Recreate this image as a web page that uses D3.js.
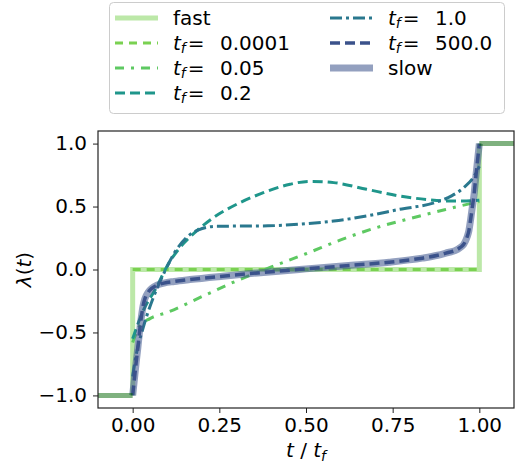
<!DOCTYPE html>
<meta charset="utf-8">
<html>
<head>
<style>
  body { margin: 0; background: #fff; }
  text { font-family: "DejaVu Sans", sans-serif; fill: #000; }
</style>
<script src="https://d3js.org/d3.v7.min.js"></script>
</head>
<body>
<script>

// Values, t is in units of t_f
var fastT = [0, 0, 1, 1];
var fastL = [-1, 0, 0, 1];

var outerT = [[-0.1, 0], [1, 1.1]];
var outerL = [[-1, -1], [1, 1]];

var t0001T = [0, 1];
var t0001L = [0, 0];

var t005T = [0, 0.02, 0.05, 0.1, 0.2, 0.3, 0.4, 0.5, 0.6, 0.7, 0.8, 0.9, 1.0];
var t005L = [-0.58, -0.45, -0.39, -0.34, -0.215, -0.09, 0.02, 0.125, 0.235, 0.33, 0.405, 0.475, 0.54];

var t02T = [0, 0.03, 0.068, 0.1, 0.136, 0.184, 0.232, 0.3, 0.377, 0.454, 0.51, 0.58, 0.675, 0.77, 0.85, 0.9, 0.95, 1.0];
var t02L = [-0.55, -0.33, -0.146, 0.03, 0.173, 0.305, 0.41, 0.518, 0.61, 0.677, 0.70, 0.69, 0.637, 0.584, 0.555, 0.545, 0.545, 0.55];

var t1T = [0, 0.01, 0.03, 0.06, 0.09, 0.12, 0.155, 0.19, 0.24, 0.3, 0.39, 0.5, 0.58, 0.68, 0.77, 0.87, 0.92, 0.955, 0.985, 1.0];
var t1L = [-0.85, -0.68, -0.465, -0.22, -0.03, 0.13, 0.253, 0.315, 0.343, 0.345, 0.347, 0.364, 0.385, 0.428, 0.478, 0.53, 0.585, 0.65, 0.74, 0.82];

var slowT = [0, 0.005, 0.01, 0.015, 0.02, 0.025, 0.03, 0.035, 0.045, 0.055, 0.07, 0.09, 0.12, 0.165, 0.26, 0.36, 0.5,
             0.64, 0.74, 0.835, 0.88, 0.91, 0.93, 0.945, 0.955, 0.965, 0.97, 0.975, 0.98, 0.985, 0.99, 0.995, 1];
var slowL = [-1, -0.87, -0.74, -0.62, -0.49, -0.38, -0.29, -0.235, -0.18, -0.15, -0.125, -0.108, -0.095, -0.08, -0.053, -0.027, 0.005,
             0.035, 0.058, 0.09, 0.113, 0.135, 0.15, 0.175, 0.2, 0.26, 0.31, 0.40, 0.50, 0.60, 0.74, 0.87, 1];

var xTicks = [0, 0.25, 0.5, 0.75, 1.0];
var yTicks = [-1.0, -0.5, 0.0, 0.5, 1.0];

// Layout
var width = 518, height = 468;
var margin = {left: 98, right: 4, top: 131, bottom: 60};

var svg = d3.select("body").append("svg")
    .attr("width", width)
    .attr("height", height);

var x = d3.scaleLinear().domain([-0.1, 1.1]).range([margin.left, width - margin.right]);
var y = d3.scaleLinear().domain([-1.1, 1.1]).range([height - margin.bottom, margin.top]);

function pairs(ts, ls) { return ts.map(function(t, i) { return [t, ls[i]]; }); }

var line = d3.line()
    .x(function(d) { return x(d[0]); })
    .y(function(d) { return y(d[1]); });

var smooth = d3.line()
    .x(function(d) { return x(d[0]); })
    .y(function(d) { return y(d[1]); })
    .curve(d3.curveMonotoneX);

var plot = svg.append("g");
plot.append("defs").append("clipPath").attr("id", "clip")
  .append("rect")
    .attr("x", x(-0.1)).attr("y", y(1.1))
    .attr("width", x(1.1) - x(-0.1)).attr("height", y(-1.1) - y(1.1));
var lines = plot.append("g").attr("clip-path", "url(#clip)");

// style of each series, legend order
var series = [
    {label: "fast",   data: pairs(fastT, fastL),   gen: line,   color: "#7ad151", op: 0.5,  w: 5,   dash: null},
    {label: "0.0001", data: pairs(t0001T, t0001L), gen: line,   color: "#7ad151", op: 1,    w: 3,   dash: "8,6"},
    {label: "0.05",   data: pairs(t005T, t005L),   gen: smooth, color: "#5ec962", op: 1,    w: 3,   dash: "9,7,3,7"},
    {label: "0.2",    data: pairs(t02T, t02L),     gen: smooth, color: "#1f968b", op: 1,    w: 3,   dash: "10,5"},
    {label: "1.0",    data: pairs(t1T, t1L),       gen: smooth, color: "#2a788e", op: 1,    w: 3,   dash: "12,4,3,4"},
    {label: "500.0",  data: pairs(slowT, slowL),   gen: smooth, color: "#3b528b", op: 1,    w: 3.5, dash: "10,5"},
    {label: "slow",   data: pairs(slowT, slowL),   gen: smooth, color: "#3b528b", op: 0.55, w: 7,   dash: null}
];

// drawing order: slow band under the 500.0 dashes
var drawOrder = [0, 1, 2, 3, 4, 6, 5];
drawOrder.forEach(function(k) {
    var s = series[k];
    lines.append("path")
        .datum(s.data)
        .attr("fill", "none")
        .attr("stroke", s.color)
        .attr("stroke-opacity", s.op)
        .attr("stroke-width", s.w)
        .attr("stroke-dasharray", s.dash)
        .attr("d", s.gen);
});

// the darker flat parts outside [0, 1]
outerT.forEach(function(ts, i) {
    lines.append("path")
        .datum(pairs(ts, outerL[i]))
        .attr("fill", "none")
        .attr("stroke", "darkgreen")
        .attr("stroke-opacity", 0.5)
        .attr("stroke-width", 5)
        .attr("d", line);
});

// Axes
var xAxis = svg.append("g")
    .attr("transform", "translate(0," + (height - margin.bottom) + ")")
    .call(d3.axisBottom(x).tickValues(xTicks).tickFormat(d3.format(".2f")).tickSize(5).tickPadding(5));
var yAxis = svg.append("g")
    .attr("transform", "translate(" + margin.left + ",0)")
    .call(d3.axisLeft(y).tickValues(yTicks).tickFormat(d3.format(".1f")).tickSize(5).tickPadding(6));

[xAxis, yAxis].forEach(function(a) {
    a.select(".domain").remove();
    a.selectAll("line").attr("stroke", "#222").attr("stroke-width", 1);
    a.selectAll("text").style("font-size", "20px").attr("fill", "#000");
});

// frame
svg.append("rect")
    .attr("x", x(-0.1)).attr("y", y(1.1))
    .attr("width", x(1.1) - x(-0.1)).attr("height", y(-1.1) - y(1.1))
    .attr("fill", "none").attr("stroke", "#222").attr("stroke-width", 1.2);

// Axis labels
var xl = svg.append("text")
    .attr("x", (x(-0.1) + x(1.1)) / 2)
    .attr("y", 457)
    .attr("text-anchor", "middle")
    .style("font-size", "20px");
xl.append("tspan").style("font-style", "italic").text("t");
xl.append("tspan").text(" / ");
xl.append("tspan").style("font-style", "italic").text("t");
xl.append("tspan").style("font-style", "italic").style("font-size", "14px").attr("dy", 4).text("f");

var yl = svg.append("text")
    .attr("transform", "translate(31," + ((y(-1.1) + y(1.1)) / 2) + ") rotate(-90)")
    .attr("text-anchor", "middle")
    .style("font-size", "20px");
yl.append("tspan").style("font-style", "italic").text("λ");
yl.append("tspan").text("(");
yl.append("tspan").style("font-style", "italic").text("t");
yl.append("tspan").text(")");

// Legend
var legend = svg.append("g");
legend.append("rect")
    .attr("x", 109.5).attr("y", 2.5)
    .attr("width", 395).attr("height", 111)
    .attr("rx", 4)
    .attr("fill", "#fff").attr("fill-opacity", 0.8)
    .attr("stroke", "#cccccc").attr("stroke-width", 1);

var colX = [115, 330];
var rowY = [18, 43, 68, 93];

series.forEach(function(s, i) {
    var col = i < 4 ? 0 : 1;
    var row = i < 4 ? i : i - 4;
    var lx = colX[col], ly = rowY[row];
    legend.append("line")
        .attr("x1", lx).attr("x2", lx + 43)
        .attr("y1", ly).attr("y2", ly)
        .attr("stroke", s.color)
        .attr("stroke-opacity", s.op)
        .attr("stroke-width", s.w)
        .attr("stroke-dasharray", s.dash);
    var tx = lx + 58;
    if (s.label == "fast" || s.label == "slow") {
        legend.append("text").attr("x", tx).attr("y", ly + 7)
            .style("font-size", "20px").text(s.label);
    } else {
        var t = legend.append("text").attr("x", tx).attr("y", ly + 7).style("font-size", "20px");
        t.append("tspan").style("font-style", "italic").text("t");
        t.append("tspan").style("font-style", "italic").style("font-size", "14px").attr("dy", 3).text("f");
        t.append("tspan").attr("dy", -3).attr("dx", 2).text("=");
        legend.append("text").attr("x", tx + 47).attr("y", ly + 7)
            .style("font-size", "20px").text(s.label);
    }
});

</script>
</body>
</html>
